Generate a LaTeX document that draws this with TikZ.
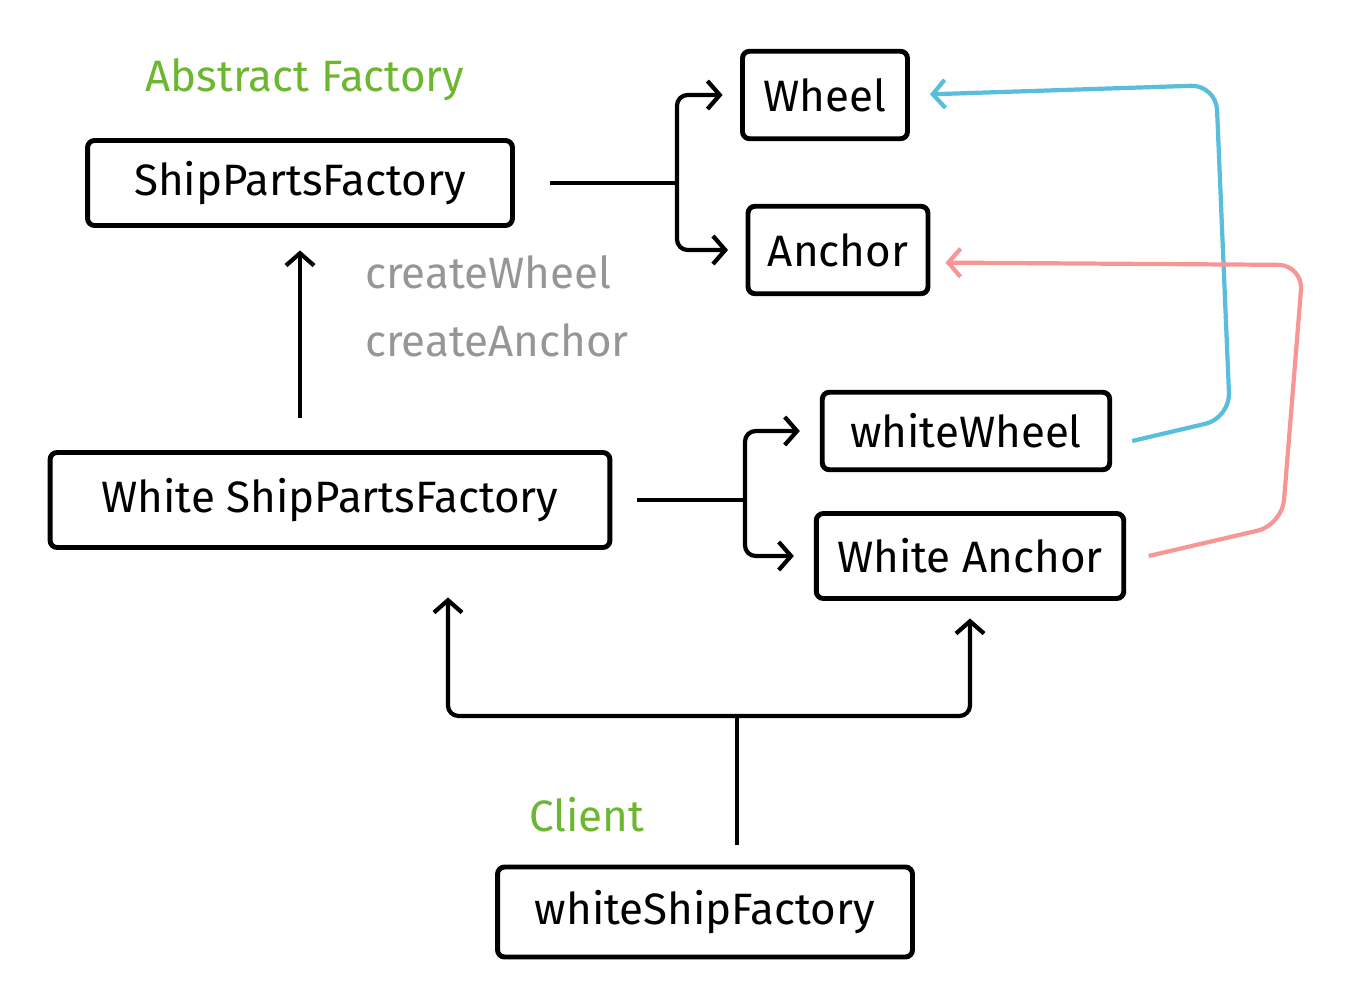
\documentclass[tikz,border=0pt]{standalone}
\usepackage{fontspec}
\setmainfont{Fira Sans}
\usetikzlibrary{arrows.meta}

\definecolor{factgreen}{RGB}{108,182,48}
\definecolor{notegray}{RGB}{150,150,150}
\definecolor{wheelblue}{RGB}{88,190,220}
\definecolor{anchorpink}{RGB}{248,150,150}

\tikzset{
    part/.style={draw, line width=2.8pt, rounded corners=4pt, inner sep=4pt, font=\fontsize{25}{30}\selectfont},
    wire/.style={line width=2.4pt, rounded corners=6pt, -{Straight Barb[length=7pt,width=16pt]}},
    note/.style={font=\fontsize{25}{30}\selectfont},
}

\begin{document}
\begin{tikzpicture}[x=0.02cm, y=-0.02cm]
    \useasboundingbox (0,0) rectangle (1369,1000);
    % factories and parts
    \node[part, minimum width=8.5cm,  minimum height=1.7cm]  (spf)     at (300,183) {ShipPartsFactory};
    \node[part, minimum width=3.3cm,  minimum height=1.75cm] (wheel)   at (825,95)  {Wheel};
    \node[part, minimum width=3.6cm,  minimum height=1.75cm] (anchor)  at (838,250) {Anchor};
    \node[part, minimum width=11.2cm, minimum height=1.9cm]  (wspf)    at (330,500) {White ShipPartsFactory};
    \node[part, minimum width=5.75cm, minimum height=1.55cm] (wwheel)  at (966,431) {whiteWheel};
    \node[part, minimum width=6.15cm, minimum height=1.7cm]  (wanchor) at (970,556) {White Anchor};
    \node[part, minimum width=8.3cm,  minimum height=1.8cm]  (wsf)     at (705,912) {whiteShipFactory};
    % labels
    \node[note, text=factgreen] (abstract) at (305,80)  {Abstract Factory};
    \node[note, text=factgreen] (client)   at (587,815) {Client};
    \node[note, text=notegray]  (mkwheel)  at (488,272) {createWheel};
    \node[note, text=notegray]  (mkanchor) at (497,340) {createAnchor};
    % branch points
    \coordinate (spfj)  at (677,183);
    \coordinate (wspfj) at (745,500);
    \coordinate (wsfj)  at (737,716);
    \draw[line width=2.4pt, shorten <=0.7cm] (spf.east) -- (spfj);
    \draw[line width=2.4pt, shorten <=0.5cm] (wspf.east) -- (wspfj);
    \foreach \t in {wheel,anchor}{% one arrow to each part
        \draw[wire, shorten >=0.35cm] (spfj) |- (\t.west);
    }
    \foreach \t in {wwheel,wanchor}{% one arrow to each white part
        \draw[wire, shorten >=0.4cm] (wspfj) |- (\t.west);
    }
    \draw[wire, shorten <=0.65cm, shorten >=0.45cm] (wspf.north -| spf.south) -- (spf.south);
    % client uses both
    \draw[line width=2.4pt, shorten <=0.4cm] (wsf.north -| wsfj) -- (wsfj);
    \draw[wire, shorten >=0.95cm] (wsfj) -| ([xshift=2.36cm]wspf.south);
    \draw[wire, shorten >=0.35cm] (wsfj) -| (wanchor.south);
    % white parts are parts
    \draw[wire, wheelblue, rounded corners=0.5cm, shorten >=0.4cm]
        ([xshift=0.4cm,yshift=-0.2cm]wwheel.east) -- (1230,418) -- (1216,85) -- (wheel.east);
    \draw[wire, anchorpink, rounded corners=0.5cm, shorten >=0.3cm]
        ([xshift=0.45cm]wanchor.east) -- (1282,525) -- (1303,265) -- ([yshift=-0.25cm]anchor.east);
\end{tikzpicture}
\end{document}
